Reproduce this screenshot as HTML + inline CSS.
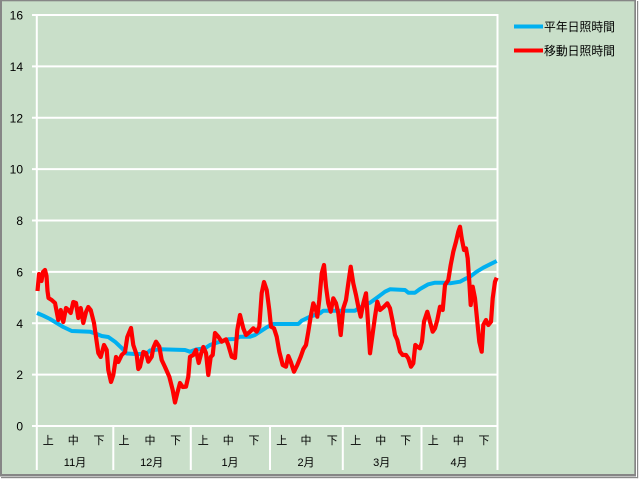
<!DOCTYPE html>
<html><head><meta charset="utf-8"><style>
html,body{margin:0;padding:0;background:#fff;width:640px;height:480px;overflow:hidden}
svg{display:block}
text{font-family:"Liberation Sans","Noto Sans CJK JP",sans-serif;fill:#000}
</style></head><body>
<svg width="640" height="480" viewBox="0 0 640 480" xmlns="http://www.w3.org/2000/svg">
<rect x="0" y="0" width="636" height="476.5" fill="#868686"/>
<rect x="2" y="1.3" width="632.3" height="472.7" fill="#c9dfc9"/>
<rect x="1" y="477" width="637" height="1.2" fill="#8a8a8a"/>
<rect x="637" y="1" width="1.2" height="477.2" fill="#8a8a8a"/>
<g stroke="#fff" stroke-width="2" fill="none">
<line x1="32" y1="15" x2="498" y2="15"/>
<line x1="32" y1="66.4" x2="497" y2="66.4"/>
<line x1="32" y1="117.8" x2="497" y2="117.8"/>
<line x1="32" y1="169.1" x2="497" y2="169.1"/>
<line x1="32" y1="220.5" x2="497" y2="220.5"/>
<line x1="32" y1="271.9" x2="497" y2="271.9"/>
<line x1="32" y1="323.3" x2="497" y2="323.3"/>
<line x1="32" y1="374.6" x2="497" y2="374.6"/>
<line x1="32" y1="426" x2="498" y2="426"/>
<line x1="36.8" y1="14" x2="36.8" y2="470"/>
<line x1="497.5" y1="14" x2="497.5" y2="470"/>
<line x1="113.3" y1="426" x2="113.3" y2="470"/>
<line x1="190.8" y1="426" x2="190.8" y2="470"/>
<line x1="270" y1="426" x2="270" y2="470"/>
<line x1="342.8" y1="426" x2="342.8" y2="470"/>
<line x1="421.5" y1="426" x2="421.5" y2="470"/>
</g>
<g font-size="12" text-anchor="end">
<text x="23" y="19.5">16</text>
<text x="23" y="70.9">14</text>
<text x="23" y="122.3">12</text>
<text x="23" y="173.6">10</text>
<text x="23" y="225">8</text>
<text x="23" y="276.4">6</text>
<text x="23" y="327.8">4</text>
<text x="23" y="379.1">2</text>
<text x="23" y="430.5">0</text>
</g>
<g font-size="11" text-anchor="middle">
<text x="48.3" y="444">上</text><text x="73.3" y="444">中</text><text x="99" y="444">下</text>
<text x="124" y="444">上</text><text x="150" y="444">中</text><text x="175.7" y="444">下</text>
<text x="203.3" y="444">上</text><text x="228.3" y="444">中</text><text x="254" y="444">下</text>
<text x="281.7" y="444">上</text><text x="306" y="444">中</text><text x="332.3" y="444">下</text>
<text x="355.7" y="444">上</text><text x="380.7" y="444">中</text><text x="405.7" y="444">下</text>
<text x="433.3" y="444">上</text><text x="458.3" y="444">中</text><text x="484" y="444">下</text>
<text x="75" y="466">11月</text>
<text x="151.7" y="466">12月</text>
<text x="230" y="466">1月</text>
<text x="306" y="466">2月</text>
<text x="381.7" y="466">3月</text>
<text x="459" y="466">4月</text>
</g>
<polyline fill="none" stroke="#00b0f0" stroke-width="4" stroke-linejoin="round" points="37,313 43.3,315.7 50,319 56.7,323 63.3,327 71.7,331 90,331.7 96.7,334 101.7,336 108.3,337 115,341.7 121.7,348 126.7,353.5 135,354 146,354 150,350.5 160,349.3 185,350 190,351.7 196.7,349.3 205,348.3 210,345 216.7,342.7 228.3,339.3 235,339 240,336.7 250,336.7 255,335 260,331.7 266.7,327.3 273.3,324 298.3,324 301.7,320.7 310,316.7 320,313.3 323.3,310.7 355,310.7 360,307.3 370,302.7 378.3,296.7 385,291.7 390,289.3 405,290 408.3,292.7 415,292.7 420,289 428.3,284.3 435,282.7 443.3,282.7 450,283.3 460,281.7 465,279 470,276.7 476.7,271.7 483.3,267.7 490,264.3 496.7,261"/>
<polyline fill="none" stroke="#ff0000" stroke-width="4.2" stroke-linejoin="round" points="37.5,291 39,274 41.5,281 43,272 45,270 46.5,276 47.5,291 48.5,298 51.7,300 55,303 58.3,320 60.7,310 63.3,322 66,308 68.3,310 70.7,313 73.3,302 76,303 78.3,318 80.7,308 83.3,323 86,312 88.3,307 90.7,310 94,323 96,337 98.3,353 100.7,357 104,345 106.7,350 108.3,370 111,382 113.3,375 116,357 118.3,362 121.7,355 125,352 127.3,337 131,328 133.3,345 136.7,355 138.3,369 140,366.7 143.3,352 146,353 148.3,361.7 151.7,356.7 153.3,348 156,341.7 159.3,346.7 161.7,360 165,367 169.3,376.7 172.7,390 175,402.5 177.3,393 180,383 182.7,387 186,386.7 188.3,376.7 190,356.7 193.3,355 196,350 198.7,363 201.3,353 203.3,347 206,353 208.3,375 210.7,357 212.7,355 215,333 218.3,336.7 221.7,341.7 226,339.3 228.3,345 231.7,356.7 235,358 237.3,330 240,315 243.3,328.3 246,335 250,331.7 253.3,328.3 256.7,331.7 259.3,326.7 261.7,293 264,282 266.7,290 269.3,310 271,326.7 274,328.3 276.7,336.7 279.3,351.7 282.7,365 286,366.7 288.3,356 290.7,361.7 294,371.7 297.3,365 300.7,356.7 303.3,349.3 306,345 308.3,331.7 310.7,316.7 313.3,303.3 316,310 317.3,316.7 319.3,300 321.7,273.3 324,265 326,286.7 328.3,303.3 330.7,311.7 333.3,298.3 336,303.3 338.3,313.3 340.7,335 343.3,308.3 346,300 348.3,283.3 350.7,266.7 353.3,283.3 356,295 358.3,306.7 360.7,316.7 363.3,303.3 366,293.3 368.3,326.7 370,353.3 372.7,333.3 375,316.7 377.3,301.7 380,310 384,306.7 387.3,303.3 390,308.3 392.7,321.7 395,335 397.3,340 400,351.7 402.7,355 406,355 408.3,358.3 411,366.7 413.3,363.3 415.3,345 417.3,346.7 420,348.3 422,341.7 424,321.7 427.3,311.7 430,321.7 432.7,331.7 435,328.3 437.3,320 440,306.7 442.7,310 445,285 448.3,280 450.7,265 453.3,251.7 456,241.7 458.3,231.7 460,226.7 461.7,238.3 464,250 466,248.3 467.7,258.3 469.3,281.7 470.7,305 472.7,286.7 475,298.3 477.3,321.7 479.3,341.7 481.7,351.7 483.3,325 486,320 488.3,325 491,321.7 492.7,298.3 495,281.7 496.7,277.7"/>
<line x1="514" y1="26.5" x2="543" y2="26.5" stroke="#00b0f0" stroke-width="4"/>
<line x1="514" y1="50.5" x2="543" y2="50.5" stroke="#ff0000" stroke-width="4"/>
<g font-size="12">
<text x="544" y="31" textLength="71" lengthAdjust="spacingAndGlyphs">平年日照時間</text>
<text x="544" y="55" textLength="71" lengthAdjust="spacingAndGlyphs">移動日照時間</text>
</g>
</svg>
</body></html>
